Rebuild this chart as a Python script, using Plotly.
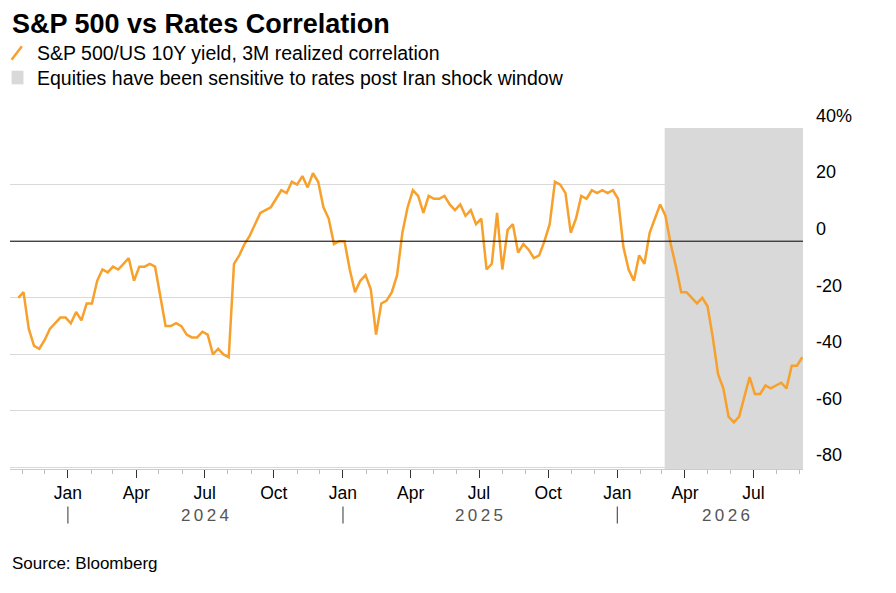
import pandas as pd
import plotly.graph_objects as go

# weekly realized correlation, S&P 500 vs US 10Y yield (%)
start_date = "2023-10-27"
corr_values = [
    -20, -18, -31, -37, -38, -35, -31, -29, -27, -27,
    -29, -25, -28, -22, -22, -14, -10, -11, -9, -10,
    -8, -6, -14, -9, -9, -8, -9, -20, -30, -30,
    -29, -30, -33, -34, -34, -32, -33, -40, -38, -40,
    -41, -8, -5, -1, 2, 6, 10, 11, 12, 15,
    18, 17, 21, 20, 23, 19, 24, 21, 12, 8,
    -1, 0, 0, -10, -18, -14, -12, -17, -33, -22,
    -21, -18, -12, 3, 12, 18, 16, 10, 16, 15,
    15, 16, 13, 11, 13, 9, 11, 6, 8, -10,
    -8, 10, -10, 4, 6, -4, -1, -3, -6, -5,
    0, 6, 21, 20, 17, 3, 8, 16, 15, 18,
    17, 18, 17, 18, 15, -2, -10, -14, -5, -8,
    3, 8, 13, 9, -1, -9, -18, -18, -20, -22,
    -20, -23, -34, -47, -52, -62, -64, -62, -55, -48,
    -54, -54, -51, -52, -51, -50, -52, -44, -44, -41,
]
dates = pd.date_range(start_date, periods=len(corr_values), freq="7D")

shock_start = "2026-03-05"
shock_end = "2026-09-05"
x_range = ["2023-10-16", "2026-09-05"]

y_ticks = [40, 20, 0, -20, -40, -60, -80]
y_labels = ["40%", "20", "0", "-20", "-40", "-60", "-80"]
year_labels = [("2024-07-01", "2024"), ("2025-07-01", "2025"), ("2026-05-25", "2026")]
year_seps = ["2024-01-01", "2025-01-01", "2026-01-01"]

ORANGE = "#f7a02c"
FONT = "Liberation Sans, Arial, sans-serif"

fig = go.Figure()
fig.add_vrect(x0=shock_start, x1=shock_end, fillcolor="#d9d9d9", line_width=0, layer="below")
fig.add_trace(go.Scatter(x=dates, y=corr_values, mode="lines",
                         line=dict(color=ORANGE, width=2.5), showlegend=False))
fig.add_hline(y=0, line=dict(color="black", width=1))

# title + legend
fig.add_annotation(text="<b>S&P 500 vs Rates Correlation</b>", xref="paper", yref="paper",
                   x=0, y=1.305, xanchor="left", yanchor="middle", showarrow=False,
                   font=dict(size=27, color="black", family=FONT))
fig.add_annotation(text="S&P 500/US 10Y yield, 3M realized correlation", xref="paper", yref="paper",
                   x=0.032, y=1.22, xanchor="left", yanchor="middle", showarrow=False,
                   font=dict(size=19.5, color="black", family=FONT))
fig.add_annotation(text="Equities have been sensitive to rates post Iran shock window", xref="paper", yref="paper",
                   x=0.032, y=1.148, xanchor="left", yanchor="middle", showarrow=False,
                   font=dict(size=19.5, color="black", family=FONT))
fig.add_shape(type="line", xref="paper", yref="paper", x0=0.002, x1=0.015, y0=1.2, y1=1.24,
              line=dict(color=ORANGE, width=2.5))
fig.add_shape(type="rect", xref="paper", yref="paper", x0=0.002, x1=0.017, y0=1.128, y1=1.168,
              fillcolor="#d9d9d9", line_width=0)

for xd, txt in year_labels:
    fig.add_annotation(text="\u2009".join(txt), x=xd, xref="x", yref="paper", y=-0.135, yanchor="middle",
                       showarrow=False, font=dict(size=17, color="#555555", family=FONT))
for xd in year_seps:
    fig.add_shape(type="line", x0=xd, x1=xd, xref="x", yref="paper", y0=-0.11, y1=-0.16,
                  line=dict(color="#555555", width=1.2))

fig.add_annotation(text="Source: Bloomberg", xref="paper", yref="paper", x=0, y=-0.276,
                   xanchor="left", yanchor="middle", showarrow=False,
                   font=dict(size=17, color="black", family=FONT))

fig.update_layout(
    width=896, height=593, paper_bgcolor="white", plot_bgcolor="white",
    margin=dict(l=2, r=101, t=120, b=132),
    font=dict(family=FONT, color="black", size=16),
    showlegend=False,
)
fig.update_xaxes(range=x_range, dtick="M3", tick0="2024-01-01", tickformat="%b",
                 ticks="outside", ticklen=8, tickcolor="#333333", showgrid=False,
                 showline=True, linecolor="#cccccc", automargin=False,
                 minor=dict(dtick="M1", ticks="outside", ticklen=4, tickcolor="#bbbbbb"),
                 tickfont=dict(size=17.5))
fig.update_yaxes(range=[-80.5, 40], side="right", tickvals=y_ticks, ticktext=y_labels,
                 ticklabelposition="outside top", ticklabelstandoff=12,
                 showgrid=True, gridcolor="#d9d9d9",
                 zeroline=False, tickfont=dict(size=18), ticks="", automargin=False)

fig.write_html("out.html")
